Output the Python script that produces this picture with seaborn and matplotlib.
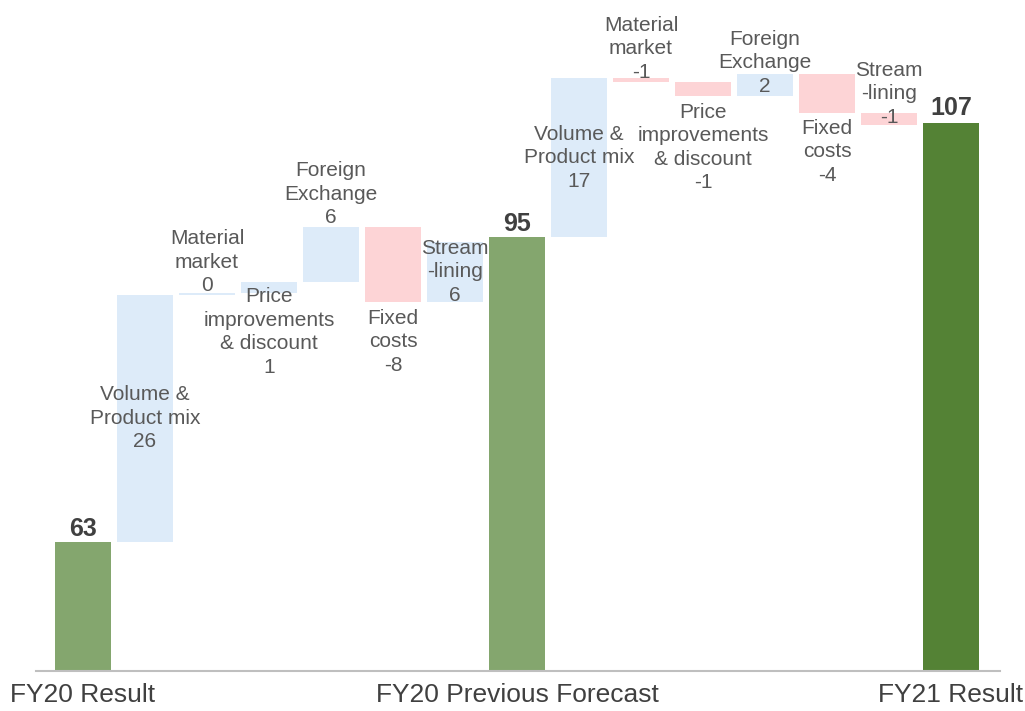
import numpy as np
import pandas as pd
import matplotlib
matplotlib.use("Agg")
import matplotlib.pyplot as plt
import seaborn as sns
from matplotlib.transforms import offset_copy

# ---- data ----
step_names = ["FY20 Result", "Volume &\nProduct mix", "Material\nmarket",
              "Price\nimprovements\n& discount", "Foreign\nExchange", "Fixed\ncosts",
              "Stream\n-lining", "FY20 Previous Forecast", "Volume &\nProduct mix",
              "Material\nmarket", "Price\nimprovements\n& discount", "Foreign\nExchange",
              "Fixed\ncosts", "Stream\n-lining", "FY21 Result"]
totals = {0: 63.0, 7: 95.0, 14: 107.0}
deltas_first = [26.0, 0.15, 1.2, 5.7, -7.8, 6.3]
deltas_second = [16.8, -0.5, -1.4, 2.3, -4.1, -1.3]
shown_values = ["63", "26", "0", "1", "6", "-8", "6", "95",
                "17", "-1", "-1", "2", "-4", "-1", "107"]
tick_positions = [0, 7, 14]
tick_labels = ["FY20 Result", "FY20 Previous Forecast", "FY21 Result"]

# ---- build floating bars ----
bottoms, heights, kinds = [], [], []
deltas = [None] + deltas_first + [None] + deltas_second + [None]
level = 0.0
for i, d in enumerate(deltas):
    if d is None:
        level = totals[i]
        bottoms.append(0.0)
        heights.append(level)
        kinds.append("final" if i == 14 else "total")
    else:
        start, end = level, level + d
        bottoms.append(min(start, end))
        heights.append(abs(d))
        kinds.append("up" if d >= 0 else "down")
        level = end

df = pd.DataFrame({"pos": list(range(len(step_names))), "height": heights,
                   "bottom": bottoms})

colors = {"total": "#84A66E", "final": "#548235", "up": "#DDEBF9", "down": "#FDD4D6"}

sns.set_theme(style="white")
plt.rcParams["font.family"] = ["Liberation Sans", "DejaVu Sans"]

fig = plt.figure(figsize=(10.25, 7.11), dpi=100)
ax = fig.add_axes([36 / 1025, 1 - 671 / 711, (1000 - 36) / 1025, (671 - 18.6) / 711])

sns.barplot(data=df, x="pos", y="height", bottom=df["bottom"].values, width=0.9,
            color="#cccccc", ax=ax, saturation=1, linewidth=0, errorbar=None)
for patch, k in zip(ax.patches, kinds):
    patch.set_facecolor(colors[k])
    patch.set_edgecolor("none")

ax.set_ylim(49.44, 118)
ax.set_xlim(-0.758, 14.79)

# ---- labels ----
# placement: 'above', 'below', 'center', 'valuemid' (value line at bar middle); offset px
placement = ["above", "center", "above", "below", "above", "below", "center", "above",
             "center", "above", "below", "valuemid", "below", "valuemid", "above"]
offsets = [6, 0, 2, -6, 4, 7, 0, 6, 0, 0, 7, -7, 6, -4, 8]

LS = 1.3
for i in range(len(step_names)):
    top = bottoms[i] + heights[i]
    bot = bottoms[i]
    if kinds[i] in ("total", "final"):
        txt = shown_values[i]
        tr = offset_copy(ax.transData, fig=fig, x=0, y=offsets[i], units="dots")
        ax.text(i, top, txt, ha="center", va="baseline", fontsize=18,
                fontweight="bold", color="#404040", transform=tr)
        continue
    txt = step_names[i] + "\n" + shown_values[i]
    common = dict(ha="center", fontsize=15, color="#595959", linespacing=LS,
                  multialignment="center")
    if placement[i] == "above":
        tr = offset_copy(ax.transData, fig=fig, x=0, y=offsets[i], units="dots")
        ax.text(i, top, txt, va="baseline", transform=tr, **common)
    elif placement[i] == "below":
        tr = offset_copy(ax.transData, fig=fig, x=0, y=-offsets[i], units="dots")
        ax.text(i, bot, txt, va="top", transform=tr, **common)
    elif placement[i] == "valuemid":
        tr = offset_copy(ax.transData, fig=fig, x=0, y=offsets[i], units="dots")
        ax.text(i, (top + bot) / 2, txt, va="baseline", transform=tr, **common)
    else:
        ax.text(i, (top + bot) / 2, txt, va="center", **common)

# ---- axes styling ----
ax.set_xticks(tick_positions)
ax.set_xticklabels(tick_labels, fontsize=19, color="#404040")
ax.tick_params(axis="x", length=0, pad=9)
ax.set_yticks([])
ax.set_xlabel("")
ax.set_ylabel("")
for s in ["top", "left", "right"]:
    ax.spines[s].set_visible(False)
ax.spines["bottom"].set_color("#BFBFBF")
ax.spines["bottom"].set_linewidth(1.5)
ax.patch.set_alpha(0)

fig.savefig("out.png", dpi=100)
